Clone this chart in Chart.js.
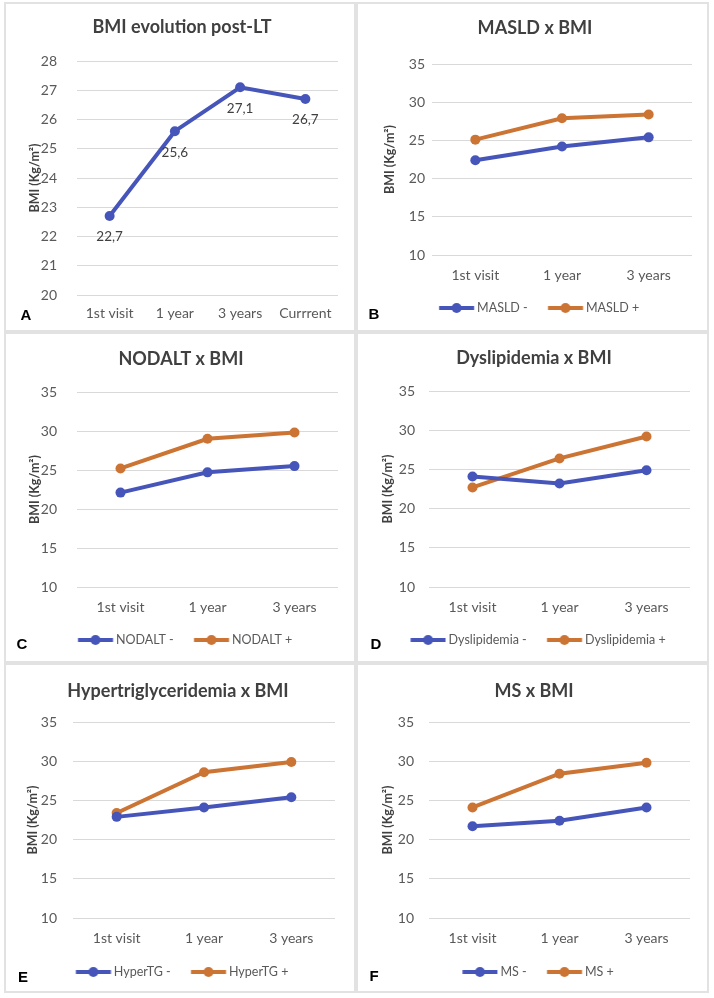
<!DOCTYPE html>
<html><head><meta charset="utf-8">
<script src="https://cdn.jsdelivr.net/npm/chart.js@4.4.1/dist/chart.umd.min.js"></script>
<style>
html,body{margin:0;padding:0;background:#fff;width:714px;height:998px;overflow:hidden;}
.panel{position:absolute;box-sizing:border-box;border:2px solid #e2e2e2;pointer-events:none;}
canvas{position:absolute;}
.tag{position:absolute;font:bold 15px "Liberation Sans",Arial,sans-serif;color:#000;line-height:1;transform:translate(-50%,-50%);}
</style></head><body>
<canvas id="cA"></canvas><canvas id="cB"></canvas><canvas id="cC"></canvas>
<canvas id="cD"></canvas><canvas id="cE"></canvas><canvas id="cF"></canvas>
<div id="frames"></div>
<div class="tag" style="left:26px;top:314px">A</div>
<div class="tag" style="left:374px;top:313px">B</div>
<div class="tag" style="left:22px;top:643px">C</div>
<div class="tag" style="left:376px;top:643px">D</div>
<div class="tag" style="left:23px;top:976px">E</div>
<div class="tag" style="left:374px;top:975px">F</div>
<script>
// ---- data ----
const categoriesA = ['1st visit', '1 year', '3 years', 'Currrent'];
const bmiOverall = [22.7, 25.6, 27.1, 26.7];
const categories = ['1st visit', '1 year', '3 years'];
const masldNeg = [22.4, 24.2, 25.4];
const masldPos = [25.1, 27.9, 28.4];
const nodaltNeg = [22.1, 24.7, 25.5];
const nodaltPos = [25.2, 29.0, 29.8];
const dysNeg = [24.1, 23.2, 24.9];
const dysPos = [22.7, 26.4, 29.2];
const htgNeg = [22.9, 24.1, 25.4];
const htgPos = [23.4, 28.6, 29.9];
const msNeg = [21.7, 22.4, 24.1];
const msPos = [24.1, 28.4, 29.8];
const yRangeA = [20, 28, 1];
const yRange = [10, 35, 5];
const yTitle = 'BMI (Kg/m²)';

// ---- style / layout ----
const FONT = "Lato, 'Open Sans', sans-serif";
const BLUE = '#4655B9', ORANGE = '#CB7434';
const L = {
  cA:{box:[4,2,352,330],  padL:22,padR:18,padB:0,   yW:51,yTickPad:20,yTitlePad:1.5,titlePad:[14.2,23.2],xH:37,   xTickPad:9.6},
  cB:{box:[356,2,353,330],padL:22,padR:17,padB:7.75,yW:54,yTickPad:7, yTitlePad:4.5,titlePad:[15.2,25.2],xH:34.75,xTickPad:11.6},
  cC:{box:[4,332,352,331],padL:20,padR:18,padB:6.75,yW:53,yTickPad:20,yTitlePad:3.5,titlePad:[16.2,22.2],xH:34.75,xTickPad:11.6},
  cD:{box:[356,332,353,331],padL:22,padR:19,padB:6.75,yW:51,yTickPad:14,yTitlePad:2.5,titlePad:[15.2,22.2],xH:34.75,xTickPad:11.6},
  cE:{box:[4,663,352,330],padL:17,padR:21,padB:4.75,yW:52,yTickPad:16,yTitlePad:4.5,titlePad:[17.2,20.2],xH:35.75,xTickPad:11.6},
  cF:{box:[356,663,353,330],padL:22,padR:19,padB:4.75,yW:51,yTickPad:15,yTitlePad:2.5,titlePad:[17.2,20.2],xH:35.75,xTickPad:11.6}
};
const LEG_FONT = 12.5;

// legend marker: line with a dot, drawn into a small image (transparent left margin keeps item spacing)
function legendMarker(color){
  const c = document.createElement('canvas'); c.width = 48; c.height = 12;
  const g = c.getContext('2d');
  g.strokeStyle = color; g.lineWidth = 4;
  g.beginPath(); g.moveTo(12.25,6); g.lineTo(47.25,6); g.stroke();
  g.fillStyle = color; g.beginPath(); g.arc(29.75,6,5,0,Math.PI*2); g.fill();
  return c;
}

const valuePlugin = {
  id:'vals',
  afterDatasetsDraw(chart){
    const ctx = chart.ctx, meta = chart.getDatasetMeta(0), data = chart.data.datasets[0].data;
    ctx.save();
    ctx.font = '13.5px ' + FONT; ctx.fillStyle = '#404040';
    ctx.textAlign = 'center'; ctx.textBaseline = 'middle';
    meta.data.forEach((pt,i)=>{ ctx.fillText(data[i].toFixed(1).replace('.', ','), pt.x, pt.y + 21); });
    ctx.restore();
  }
};

function makeChart(id, title, labels, series, range, withLegend, withValues){
  const lay = L[id];
  const cv = document.getElementById(id);
  cv.width = lay.box[2]; cv.height = lay.box[3];
  cv.style.left = lay.box[0] + 'px'; cv.style.top = lay.box[1] + 'px';
  cv.style.width = lay.box[2] + 'px'; cv.style.height = lay.box[3] + 'px';
  const fr = document.createElement('div'); fr.className = 'panel';
  fr.style.left = lay.box[0] + 'px'; fr.style.top = lay.box[1] + 'px';
  fr.style.width = lay.box[2] + 'px'; fr.style.height = lay.box[3] + 'px';
  document.getElementById('frames').appendChild(fr);
  new Chart(cv, {
    type:'line',
    data:{labels, datasets: series.map(s=>({
      label:s.label, data:s.data, borderColor:s.color, backgroundColor:s.color,
      pointBackgroundColor:s.color, pointBorderColor:s.color, borderWidth:4,
      pointRadius:5, pointHoverRadius:5, pointBorderWidth:0, tension:0, fill:false
    }))},
    options:{
      responsive:false, animation:false, devicePixelRatio:1,
      layout:{padding:{left:lay.padL, right:lay.padR, top:0, bottom:lay.padB}},
      plugins:{
        title:{display:true, text:title, color:'#404040',
          font:{family:FONT, size:18, weight:'bold', lineHeight:1.2},
          padding:{top:lay.titlePad[0], bottom:lay.titlePad[1]}},
        legend:{display:withLegend, position:'bottom',
          labels:{usePointStyle:true, pointStyleWidth:40, padding:12, color:'#595959',
            font:{family:FONT, size:LEG_FONT},
            generateLabels:(chart)=>chart.data.datasets.map((ds,i)=>({
              text:ds.label, pointStyle:legendMarker(ds.borderColor), fillStyle:ds.borderColor,
              strokeStyle:ds.borderColor, lineWidth:0, fontColor:'#595959', datasetIndex:i, hidden:false}))}},
        tooltip:{enabled:false}
      },
      scales:{
        x:{offset:true, grid:{display:false, drawTicks:false}, border:{display:false},
          ticks:{color:'#595959', font:{family:FONT, size:14}, padding:lay.xTickPad, maxRotation:0, autoSkip:false},
          afterFit:(s)=>{ s.height = lay.xH; }},
        y:{min:range[0], max:range[1], grid:{color:'#d9d9d9', lineWidth:1, drawTicks:false}, border:{display:false},
          ticks:{stepSize:range[2], color:'#595959', font:{family:FONT, size:14}, padding:lay.yTickPad},
          title:{display:true, text:yTitle, color:'#404040', font:{family:FONT, size:12.5, weight:'bold', lineHeight:1.2},
            padding:{top:lay.yTitlePad, bottom:0}},
          afterFit:(s)=>{ s.width = lay.yW; }}
      }
    },
    plugins: withValues ? [valuePlugin] : []
  });
}

makeChart('cA', 'BMI evolution post-LT', categoriesA, [{label:'BMI', data:bmiOverall, color:BLUE}], yRangeA, false, true);
makeChart('cB', 'MASLD x BMI', categories, [{label:'MASLD -', data:masldNeg, color:BLUE},{label:'MASLD +', data:masldPos, color:ORANGE}], yRange, true, false);
makeChart('cC', 'NODALT x BMI', categories, [{label:'NODALT -', data:nodaltNeg, color:BLUE},{label:'NODALT +', data:nodaltPos, color:ORANGE}], yRange, true, false);
makeChart('cD', 'Dyslipidemia x BMI', categories, [{label:'Dyslipidemia -', data:dysNeg, color:BLUE},{label:'Dyslipidemia +', data:dysPos, color:ORANGE}], yRange, true, false);
makeChart('cE', 'Hypertriglyceridemia x BMI', categories, [{label:'HyperTG -', data:htgNeg, color:BLUE},{label:'HyperTG +', data:htgPos, color:ORANGE}], yRange, true, false);
makeChart('cF', 'MS x BMI', categories, [{label:'MS -', data:msNeg, color:BLUE},{label:'MS +', data:msPos, color:ORANGE}], yRange, true, false);
</script>
</body></html>
